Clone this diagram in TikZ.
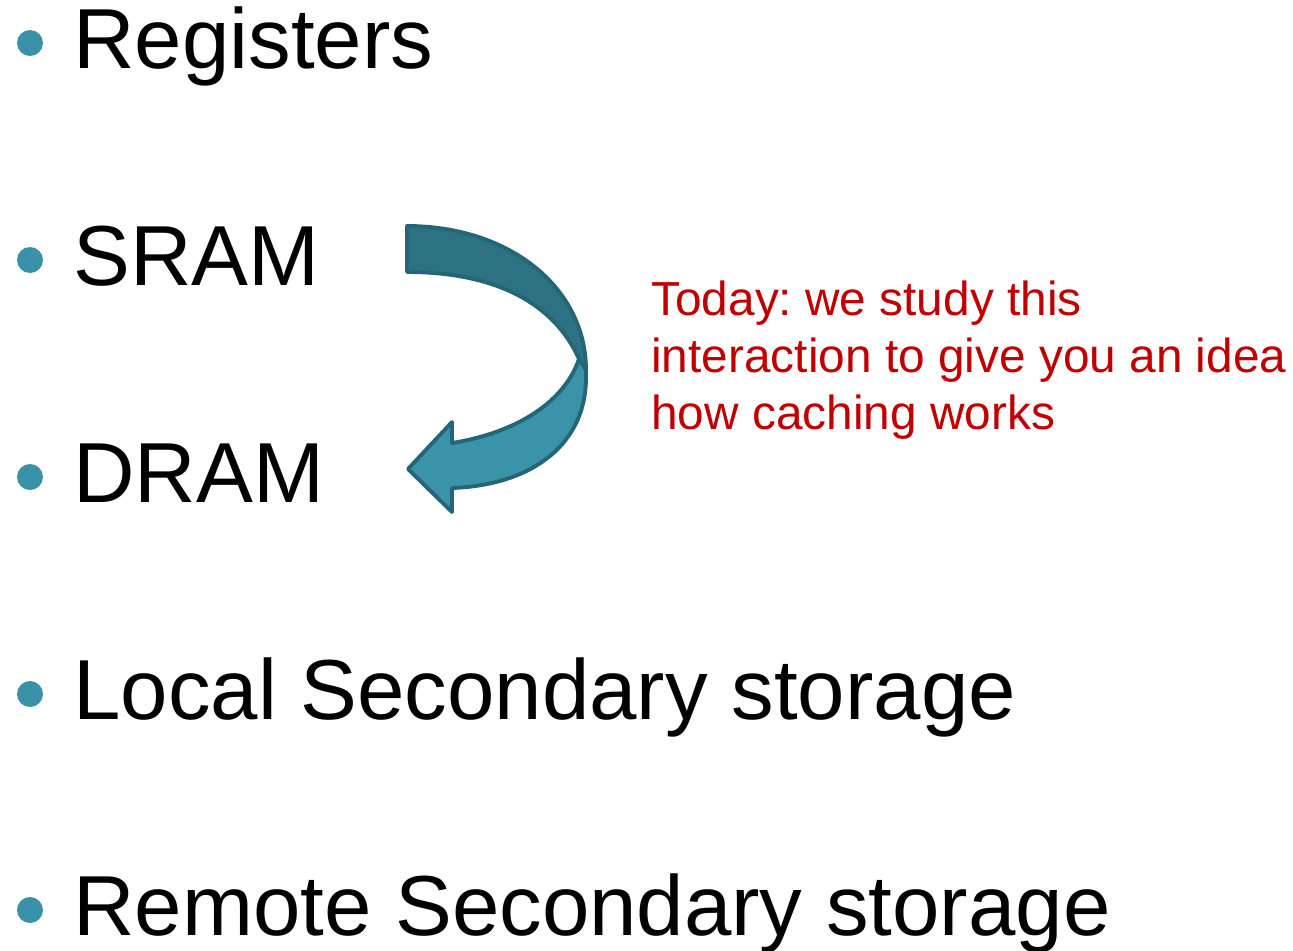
\documentclass[tikz,border=0pt]{standalone}
\usepackage{fontspec}
\setmainfont{Liberation Sans}
\usetikzlibrary{positioning}
\definecolor{dotblue}{HTML}{3A92A8}
\definecolor{twistdark}{HTML}{2D7283}
\definecolor{twistlight}{HTML}{3A93A8}
\definecolor{twistedge}{HTML}{246676}
\definecolor{notered}{HTML}{C00000}
\frenchspacing

\begin{document}
\begin{tikzpicture}[
				x=0.02cm, y=-0.02cm,
				item/.style = {anchor=base west, inner sep=0pt, font=\fontsize{48.5}{58}\selectfont},
				dot/.style = {circle, fill=dotblue, inner sep=0pt, minimum size=0.52cm},
				note/.style = {anchor=base west, inner sep=0pt, align=left, text=notered,
					font=\fontsize{27.2}{32.4}\selectfont},
				twist/.style = {draw=twistedge, line width=2.2pt, line join=round}
				]
				\useasboundingbox (0,0) rectangle (1293,950);
				
				% memory levels
				\node[item] (regs) at (73,68) {Registers};
				\node[item] (sram) at (73,285) {SRAM};
				\node[item] (dram) at (73,502) {DRAM};
				\node[item] (local) at (73,719) {Local Secondary storage};
				\node[item] (remote) at (73,935) {Remote Secondary storage};
				
				\node[dot] (regs-dot) at (30,43) {};
				\node[dot] (sram-dot) at (30,260) {};
				\node[dot] (dram-dot) at (30,477) {};
				\node[dot] (local-dot) at (30,694) {};
				\node[dot] (remote-dot) at (30,910) {};
				
				% curved arrow from SRAM down to DRAM
				\path[twist, fill=twistlight] (579,359) -- (586,366) -- (586,378)
					.. controls (586,442) and (535,485) .. (452,488)
					-- (452,512) -- (408,469) -- (452,422) -- (452,443)
					.. controls (520,432) and (565,400) .. (579,359) -- cycle;
				\path[twist, fill=twistdark] (407,226)
					.. controls (510,226) and (586,288) .. (586,370)
					-- (579,359)
					.. controls (555,305) and (498,272) .. (407,272) -- cycle;
				
				% base of a multi-line node is its last line
				\node[note] (today) at (651,429) {Today: we study this\\interaction to give you an idea\\how caching works};
			\end{tikzpicture}
\end{document}
